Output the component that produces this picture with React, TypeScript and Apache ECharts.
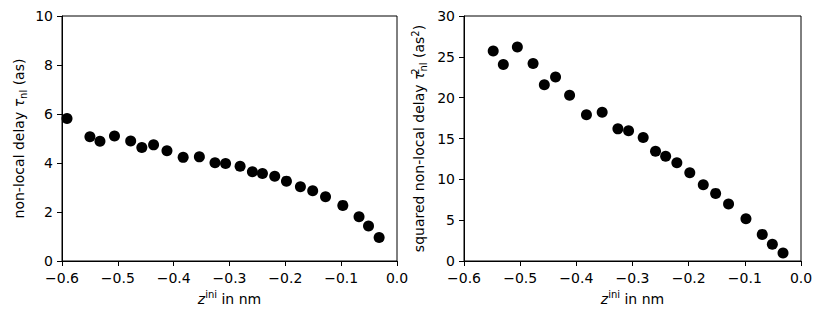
import React, { useEffect, useRef } from 'react';
import * as echarts from 'echarts';

// initial position z^ini (nm)
const zPositions = [-0.591, -0.55, -0.532, -0.506, -0.477, -0.457, -0.436, -0.412, -0.383, -0.354, -0.326, -0.307, -0.281, -0.259, -0.241, -0.219, -0.198, -0.173, -0.151, -0.128, -0.097, -0.068, -0.051, -0.032];
// non-local delay tau_nl (as)
const delays = [5.82, 5.07, 4.89, 5.1, 4.9, 4.63, 4.74, 4.5, 4.23, 4.25, 4.01, 3.98, 3.87, 3.64, 3.57, 3.46, 3.26, 3.03, 2.87, 2.62, 2.27, 1.81, 1.43, 0.96];
// squared non-local delay (as^2), visible points (first point lies above 30)
const zPositionsSq = [-0.548, -0.53, -0.505, -0.477, -0.457, -0.437, -0.412, -0.382, -0.354, -0.326, -0.307, -0.281, -0.259, -0.241, -0.221, -0.198, -0.174, -0.152, -0.129, -0.098, -0.069, -0.051, -0.032];
const squaredDelays = [25.72, 24.05, 26.21, 24.17, 21.57, 22.54, 20.3, 17.9, 18.22, 16.18, 15.94, 15.12, 13.45, 12.84, 12.03, 10.8, 9.34, 8.28, 6.97, 5.18, 3.26, 2.04, 0.98];

const xRange = { min: -0.6, max: 0, interval: 0.1 };
const yLeftRange = { min: 0, max: 10, interval: 2 };
const yRightRange = { min: 0, max: 30, interval: 5 };

const FONT = 'DejaVu Sans';

const fmtX = (v: number) => {
  const r = Math.round(v * 10) / 10;
  return (r < 0 ? '\u2212' : '') + Math.abs(r).toFixed(1);
};

const richStyles = {
  m: { fontSize: 14, fontFamily: FONT, color: '#000', lineHeight: 18 },
  i: { fontSize: 14, fontFamily: FONT, color: '#000', lineHeight: 18, fontStyle: 'italic' },
  sup: { fontSize: 10, fontFamily: FONT, color: '#000', lineHeight: 10, verticalAlign: 'top' },
  sup0: { fontSize: 10, fontFamily: FONT, color: '#000', lineHeight: 10, verticalAlign: 'top', width: 0 },
  sub: { fontSize: 10, fontFamily: FONT, color: '#000', lineHeight: 10, verticalAlign: 'bottom' },
};

export default function App() {
  const ref = useRef<HTMLDivElement>(null);
  useEffect(() => {
    if (!ref.current) return;
    const chart = echarts.init(ref.current, undefined, { renderer: 'svg' });
    const axisCommon = {
      axisLine: { show: true, onZero: false, lineStyle: { color: '#000', width: 1 } },
      axisTick: { show: true, inside: false, length: 5, lineStyle: { color: '#000', width: 1 } },
      splitLine: { show: false },
      nameLocation: 'middle' as const,
      nameTextStyle: { rich: richStyles },
    };
    const xAxisBase = (gridIndex: number) => ({
      ...axisCommon,
      type: 'value' as const,
      gridIndex,
      min: xRange.min,
      max: xRange.max,
      interval: xRange.interval,
      name: '{i|z}{sup|ini}{m| in nm}',
      nameGap: 17,
      axisLabel: { color: '#000', fontSize: 14, fontFamily: FONT, margin: 10, formatter: fmtX, showMinLabel: true, showMaxLabel: true },
    });
    chart.setOption({
      animation: false,
      backgroundColor: '#fff',
      grid: [
        { left: 62, top: 16, width: 335, height: 245, show: true, borderColor: '#000', borderWidth: 1, backgroundColor: 'transparent' },
        { left: 464, top: 16, width: 337, height: 245, show: true, borderColor: '#000', borderWidth: 1, backgroundColor: 'transparent' },
      ],
      xAxis: [xAxisBase(0), xAxisBase(1)],
      yAxis: [
        {
          ...axisCommon,
          type: 'value',
          gridIndex: 0,
          min: yLeftRange.min,
          max: yLeftRange.max,
          interval: yLeftRange.interval,
          name: '{m|non-local delay }{i|\u03c4}{sub|nl}{m| (as)}',
          nameRotate: 90,
          nameGap: 34,
          axisLabel: { color: '#000', fontSize: 14, fontFamily: FONT, margin: 9 },
        },
        {
          ...axisCommon,
          type: 'value',
          gridIndex: 1,
          min: yRightRange.min,
          max: yRightRange.max,
          interval: yRightRange.interval,
          name: '{m|squared non-local delay }{i|\u03c4}{sup0|2}{sub|nl}{m| (as}{sup|2}{m|)}',
          nameRotate: 90,
          nameGap: 36,
          axisLabel: { color: '#000', fontSize: 14, fontFamily: FONT, margin: 9 },
        },
      ],
      series: [
        {
          type: 'scatter',
          xAxisIndex: 0,
          yAxisIndex: 0,
          symbolSize: 11,
          itemStyle: { color: '#000', opacity: 1 },
          data: zPositions.map((z, k) => [z, delays[k]]),
        },
        {
          type: 'scatter',
          xAxisIndex: 1,
          yAxisIndex: 1,
          symbolSize: 11,
          itemStyle: { color: '#000', opacity: 1 },
          data: zPositionsSq.map((z, k) => [z, squaredDelays[k]]),
        },
      ],
    });
    return () => chart.dispose();
  }, []);
  return (
    <div
      ref={ref}
      style={{ position: 'fixed', left: 0, top: 0, width: 823, height: 317, background: '#fff' }}
    />
  );
}
